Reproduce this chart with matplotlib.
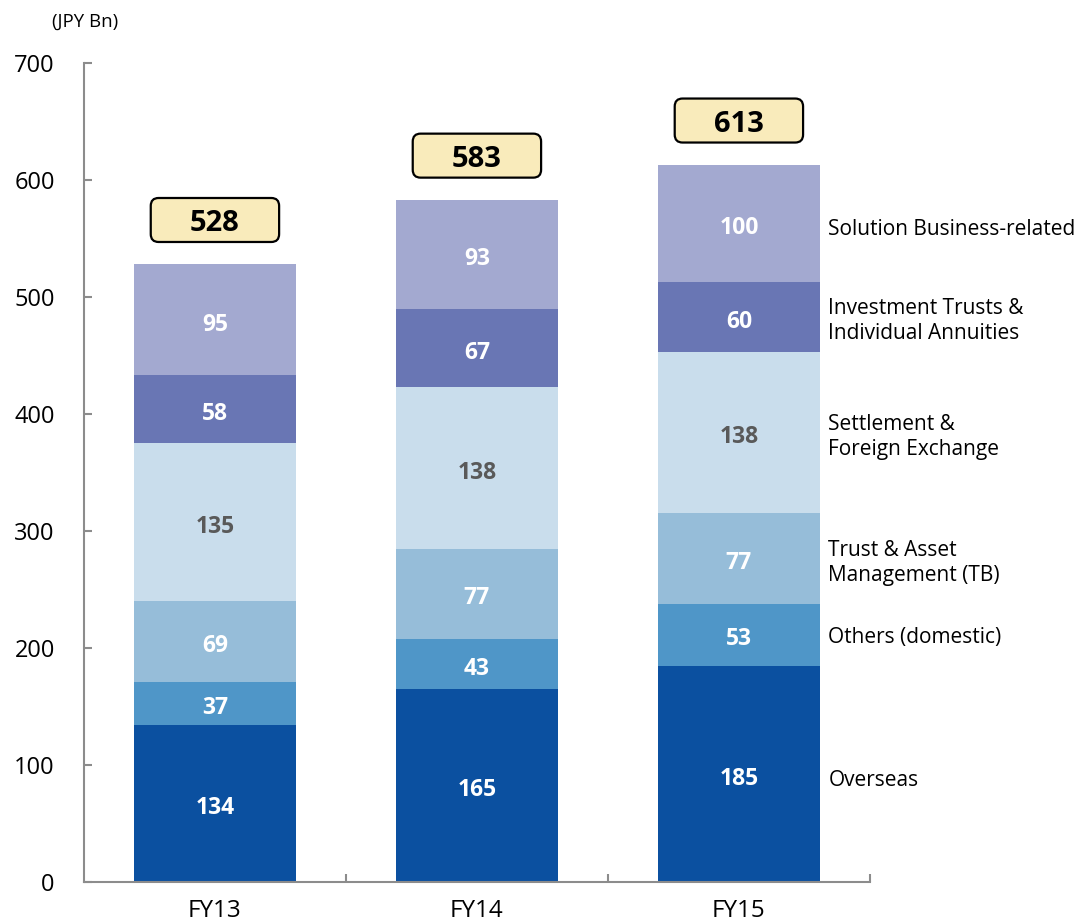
import matplotlib.pyplot as plt
from matplotlib.patches import FancyBboxPatch

plt.rcParams['font.family'] = ['Open Sans', 'DejaVu Sans']

years = ["FY13", "FY14", "FY15"]
segments = [
    "Overseas",
    "Others (domestic)",
    "Trust & Asset\nManagement (TB)",
    "Settlement &\nForeign Exchange",
    "Investment Trusts &\nIndividual Annuities",
    "Solution Business-related",
]
overseas = [134, 165, 185]
others_domestic = [37, 43, 53]
trust_asset = [69, 77, 77]
settlement_fx = [135, 138, 138]
inv_trusts = [58, 67, 60]
solution = [95, 93, 100]
totals = [528, 583, 613]

series = [overseas, others_domestic, trust_asset, settlement_fx, inv_trusts, solution]
colors = ["#0B50A0", "#4F96C8", "#96BDD9", "#C9DDEC", "#6976B4", "#A3A9D0"]
label_colors = ["white", "white", "white", "#595959", "white", "white"]

fig = plt.figure(figsize=(10.79, 9.22), dpi=100)
ax = fig.add_axes([0.0778, 0.0434, 0.7284, 0.8883])

x = list(range(len(years)))
bottoms = [0] * len(years)
for vals, col, lc in zip(series, colors, label_colors):
    ax.bar(x, vals, width=0.62, bottom=bottoms, color=col, edgecolor="none", zorder=2)
    for xi, v, b in zip(x, vals, bottoms):
        ax.text(xi, b + v / 2 - 1.5, f"{v}", ha="center", va="center_baseline",
                color=lc, fontsize=16.5, fontweight="bold", zorder=3)
    bottoms = [b + v for b, v in zip(bottoms, vals)]

# total boxes above each stack
box_w, box_h, gap = 0.49, 37.6, 19
for xi, t in zip(x, totals):
    box = FancyBboxPatch((xi - box_w / 2, t + gap), box_w, box_h,
                         boxstyle="round,pad=0,rounding_size=0.03",
                         mutation_aspect=225, facecolor="#F9EBBB",
                         edgecolor="black", linewidth=1.6, zorder=4,
                         clip_on=False)
    ax.add_patch(box)
    ax.text(xi, t + gap + box_h / 2, f"{t}", ha="center", va="center_baseline",
            fontsize=21, fontweight="bold", color="black", zorder=5)

# segment names to the right of the last stack
name_nudge = [-3.5, 0, 0, 0, 0, -3.5]
bottoms = [0] * len(years)
last = len(years) - 1
for name, vals, dy in zip(segments, series, name_nudge):
    mid = bottoms[last] + vals[last] / 2
    ax.text(last + 0.342, mid + dy, name, ha="left", va="center_baseline",
            fontsize=15, color="black", linespacing=1.25, clip_on=False)
    bottoms = [b + v for b, v in zip(bottoms, vals)]

ax.set_xlim(-0.5, 2.5)
ax.set_ylim(0, 700)
ax.set_yticks(range(0, 701, 100))
ax.set_xticks(x)
ax.set_xticklabels(years)
ax.set_xticks([0.5, 1.5, 2.5], minor=True)

for side in ("top", "right"):
    ax.spines[side].set_visible(False)
for side in ("left", "bottom"):
    ax.spines[side].set_color("#8C8C8C")
    ax.spines[side].set_linewidth(1.5)

ax.tick_params(axis="y", direction="in", length=6, color="#8C8C8C", width=1.5,
               labelsize=17, pad=21)
ax.tick_params(axis="x", which="major", length=0, labelsize=17.5, pad=12)
ax.tick_params(axis="x", which="minor", direction="in", length=6,
               color="#8C8C8C", width=1.5)

fig.text(0.048, 0.976, "(JPY Bn)", fontsize=13.4, ha="left", va="center")

fig.savefig("out.png", dpi=100)
